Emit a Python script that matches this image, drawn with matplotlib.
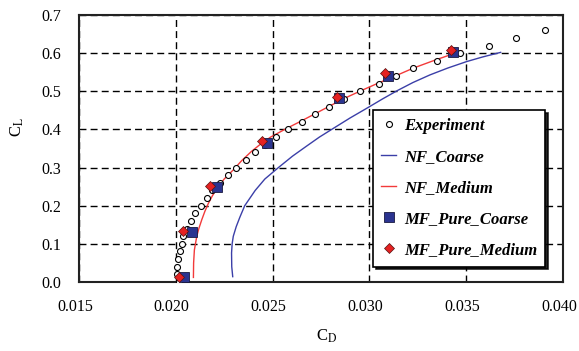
import matplotlib
matplotlib.use("Agg")
import matplotlib.pyplot as plt
import matplotlib.transforms as mtransforms

plt.rcParams['font.family'] = ['Liberation Serif', 'DejaVu Serif']
plt.rcParams['mathtext.fontset'] = 'stix'

# Experiment
exp_cd = [0.02018, 0.02008, 0.02008, 0.02011, 0.02022, 0.02030, 0.02039, 0.02059,
          0.02079, 0.02099, 0.02130, 0.02160, 0.02189, 0.02228, 0.02271, 0.02311,
          0.02361, 0.02411, 0.02463, 0.02519, 0.02578, 0.02650, 0.02719, 0.02790,
          0.02869, 0.02950, 0.03050, 0.03137, 0.03227, 0.03349, 0.03468, 0.03618,
          0.03757, 0.03905]
exp_cl = [0.00, 0.02, 0.04, 0.06, 0.08, 0.10, 0.12, 0.14, 0.16, 0.18, 0.20, 0.22,
          0.24, 0.26, 0.28, 0.30, 0.32, 0.34, 0.36, 0.38, 0.40, 0.42, 0.44, 0.46,
          0.48, 0.50, 0.52, 0.54, 0.56, 0.58, 0.60, 0.62, 0.64, 0.66]

# NF_Coarse line
nfc_cd = [0.02294, 0.02289, 0.02288, 0.02291, 0.02297, 0.02312, 0.02331, 0.02356,
          0.02410, 0.02460, 0.02530, 0.02603, 0.02672, 0.02742, 0.02805, 0.02900,
          0.02995, 0.03068, 0.03145, 0.03225, 0.03313, 0.03405, 0.03503, 0.03585,
          0.03678]
nfc_cl = [0.014, 0.040, 0.076, 0.100, 0.120, 0.145, 0.170, 0.200,
          0.240, 0.270, 0.300, 0.330, 0.355, 0.380, 0.400, 0.430,
          0.458, 0.480, 0.502, 0.523, 0.543, 0.561, 0.578, 0.590,
          0.602]

# NF_Medium line
nfm_cd = [0.02091, 0.02092, 0.02096, 0.02108, 0.02119, 0.02134, 0.02150, 0.02168,
          0.02189, 0.02213, 0.02250, 0.02297, 0.02340, 0.02390, 0.02434, 0.02490,
          0.02570, 0.02640, 0.02719, 0.02790, 0.02869, 0.02950, 0.03048, 0.03133,
          0.03228, 0.03335, 0.03477]
nfm_cl = [0.012, 0.050, 0.084, 0.119, 0.140, 0.163, 0.185, 0.206,
          0.226, 0.246, 0.270, 0.294, 0.318, 0.342, 0.360, 0.380,
          0.402, 0.420, 0.441, 0.460, 0.481, 0.500, 0.522, 0.540,
          0.561, 0.581, 0.606]

# MF_Pure_Coarse
mfc_cd = [0.02042, 0.02085, 0.02211, 0.02470, 0.02843, 0.03096, 0.03432]
mfc_cl = [0.014, 0.132, 0.250, 0.365, 0.483, 0.540, 0.602]

# MF_Pure_Medium
mfm_cd = [0.02018, 0.02039, 0.02177, 0.02444, 0.02831, 0.03081, 0.03420]
mfm_cl = [0.014, 0.134, 0.252, 0.370, 0.486, 0.547, 0.608]

xticks = [0.015, 0.020, 0.025, 0.030, 0.035, 0.040]
yticks = [0.0, 0.1, 0.2, 0.3, 0.4, 0.5, 0.6, 0.7]

fig = plt.figure(figsize=(5.79, 3.51), dpi=100)
ax = fig.add_axes([79/579, 1-282/351, (563-79)/579, (282-15)/351])

ax.plot(exp_cd, exp_cl, linestyle='none', marker='o', markersize=4.3,
        markerfacecolor='white', markeredgecolor='black', markeredgewidth=0.8,
        label='Experiment', zorder=3)
ax.plot(nfc_cd, nfc_cl, color='#3b3fa8', linewidth=1.0, label='NF_Coarse', zorder=2)
ax.plot(nfm_cd, nfm_cl, color='#f23a3a', linewidth=1.0, label='NF_Medium', zorder=2)
ax.plot(mfc_cd, mfc_cl, linestyle='none', marker='s', markersize=6.5,
        markerfacecolor='#2b3490', markeredgecolor='#1a1a40', markeredgewidth=0.6,
        label='MF_Pure_Coarse', zorder=4)
ax.plot(mfm_cd, mfm_cl, linestyle='none', marker='D', markersize=4.8,
        markerfacecolor='#e52222', markeredgecolor='#551111', markeredgewidth=0.5,
        label='MF_Pure_Medium', zorder=5)

ax.set_xlim(0.015, 0.040)
ax.set_ylim(0.0, 0.7)
ax.set_xticks(xticks)
ax.set_yticks(yticks)
ax.set_xticklabels([f'{v:.3f}' for v in xticks])
ax.set_yticklabels([f'{v:.1f}' for v in yticks])
ax.tick_params(axis='y', length=0, pad=13, labelsize=11.5)
ax.tick_params(axis='x', length=0, pad=12, labelsize=11.5)

# shift x tick labels slightly left, as in the reference
shift = mtransforms.ScaledTranslation(-4/100, 0, fig.dpi_scale_trans)
for lab in ax.get_xticklabels():
    lab.set_transform(lab.get_transform() + shift)

ax.grid(True, color='black', linestyle=(0, (5, 3)), linewidth=1.0)
ax.set_axisbelow(True)
for s in ax.spines.values():
    s.set_linewidth(1.5)
    s.set_color('#222222')

ax.set_xlabel(r'C$_\mathrm{D}$', fontsize=12)
ax.set_ylabel(r'C$_\mathrm{L}$', fontsize=12)
ax.xaxis.set_label_coords((327-79)/484, (282-328)/267)
ax.yaxis.set_label_coords((26-79)/484, (282-127)/267)

leg = ax.legend(loc='upper left', bbox_to_anchor=(373/579, 1-110/351),
                bbox_transform=fig.transFigure, borderaxespad=0,
                prop={'family': 'Liberation Serif', 'weight': 'bold',
                      'style': 'italic', 'size': 12},
                frameon=True, fancybox=False,
                shadow={'color': 'black', 'alpha': 0.85},
                handlelength=0.9, handletextpad=0.45, labelspacing=0.9,
                borderpad=0.5, framealpha=1, edgecolor='black')
leg.get_frame().set_linewidth(1.2)

fig.savefig('out.png', dpi=100)
